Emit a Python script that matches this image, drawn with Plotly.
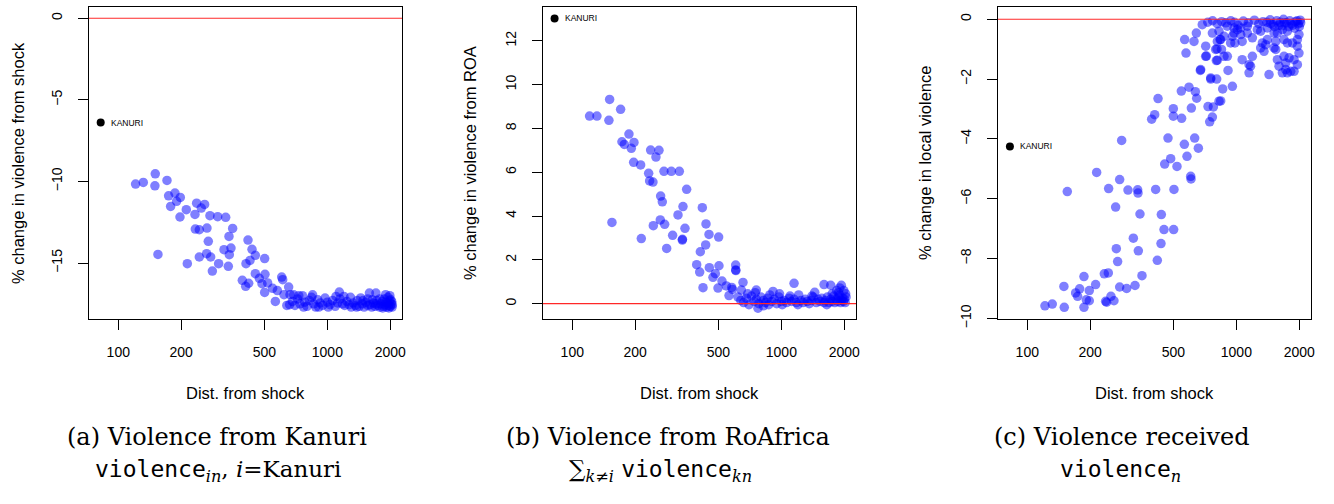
import math
import plotly.graph_objects as go

# ---------------- data ----------------
# Panel (a): % change in violence from shock (Kanuri)
dist_a = [121, 131.7, 150.3, 149.7, 171, 154.8, 174.1, 186.7, 178, 190.1, 198, 197.3, 211.5,
          232.7, 237, 233.6, 244.1, 249.5, 258.8, 265.6, 274.5, 298.8, 326.4, 352.4, 338.5,
          269.5, 213.9, 244.1, 264.6, 276.6, 302, 281.8, 336, 320.4, 339.7, 346, 417.3, 436.1,
          452.4, 408.2, 426.6, 501.3, 392, 406.8, 420.4, 452.4, 472.8, 503.1, 486.8, 518.1,
          501.3, 547.4, 576.6, 604.7, 611.4, 653.1, 564, 620.5, 662.8,
          640, 660, 680, 690, 700, 720, 730, 740, 760, 770, 780, 800, 820, 840, 850, 860, 880,
          900, 910, 925, 950, 975, 1000, 1010, 1030, 1060, 1090, 1100, 1120, 1141, 1150, 1180,
          1200, 1210, 1240, 1270, 1290, 1300, 1330, 1360, 1380, 1390, 1420, 1444, 1470, 1480,
          1500, 1530, 1560, 1560, 1589, 1600, 1630, 1640, 1660, 1690, 1700, 1707, 1720, 1750,
          1780, 1780, 1800, 1830, 1840, 1860, 1870, 1880, 1900, 1910, 1920, 1940, 1950, 1960,
          1970, 1980, 1990, 2000, 2010, 2020, 2030, 2040, 2045]
shock_a = [-10.16, -10.06, -9.53, -10.27, -9.94, -14.47, -10.88, -10.71, -11.53, -11.22, -10.98,
           -12.18, -11.73, -12.02, -11.33, -12.92, -12.96, -11.63, -11.41, -12.86, -12.10,
           -12.16, -12.2, -12.88, -13.37, -13.67, -15.04, -14.63, -14.43, -14.63, -15.04,
           -15.49, -15.2, -14.18, -14.49, -14.08, -13.59, -14.16, -14.53, -15.04, -14.84,
           -14.73, -16.06, -16.43, -16.24, -15.65, -15.94, -15.69, -16.27, -16.22, -16.8,
           -16.55, -16.69, -15.86, -16.02, -16.47, -17.35, -16.94, -16.94,
           -17.6, -17.55, -17.35, -16.95, -17.6, -17.2, -17.0, -17.5, -17.0, -17.7, -17.4,
           -17.65, -17.3, -17.1, -16.95, -17.5, -17.7, -17.25, -17.7, -17.45, -17.6, -17.15,
           -17.4, -17.7, -17.55, -17.3, -17.65, -17.05, -17.45, -16.78, -17.2, -17.5, -17.05,
           -17.6, -17.35, -17.55, -17.1, -17.7, -17.45, -17.6, -17.7, -17.3, -17.65, -17.14,
           -17.5, -17.3, -17.7, -17.4, -17.6, -17.2, -16.84, -17.55, -17.7, -17.25, -17.45,
           -17.65, -17.5, -16.84, -17.3, -17.6, -17.7, -17.2, -17.5, -17.35, -17.75, -17.65,
           -17.2, -17.55, -16.94, -17.4, -17.7, -17.45, -17.1, -17.6, -17.75, -17.3, -17.0,
           -17.65, -17.25, -17.5, -17.35, -17.7, -17.55]

# Panel (b): % change in violence from rest of Africa
dist_b = [121, 131.2, 150.9, 149.7, 170.3, 154.8, 172.8, 177.4, 186.7, 191.6, 197.3, 196.6,
          212.3, 213.9, 231.9, 234.4, 237, 243.2, 251.3, 259.8, 244.1, 264.6, 269.5, 263.6,
          276.6, 274.5, 297.7, 325.1, 282.8, 302, 320.4, 338.5, 336, 336.5, 346, 352.4, 418.8,
          436.1, 450.8, 434.5, 409.7, 393.5, 406.8, 422, 452.4, 471, 483.3, 503.1, 501.3,
          497.7, 520, 545.5, 561.9, 583, 604.7, 604.7, 606, 655.5, 643.6, 579,
          620, 640, 660, 680, 690, 700, 720, 740, 750, 759, 760, 773, 780, 800, 820, 820, 840,
          860, 870, 880, 900, 912, 925, 950, 975, 980, 1000, 1010, 1030, 1060, 1090, 1100,
          1120, 1150, 1150, 1180, 1200, 1210, 1240, 1270, 1300, 1330, 1360, 1390, 1400, 1420,
          1444, 1470, 1500, 1530, 1560, 1600, 1600, 1630, 1650, 1660, 1690, 1720, 1722, 1750,
          1750, 1780, 1800, 1830, 1840, 1860, 1880, 1880, 1900, 1902, 1920, 1936, 1940, 1960,
          1980, 1990, 2000, 2020, 2030, 2040]
roa_b = [8.56, 8.56, 9.32, 8.37, 8.87, 3.71, 7.39, 7.27, 7.74, 7.09, 7.36, 6.45, 6.33, 2.97,
         5.95, 5.60, 7.01, 5.55, 6.69, 7.0, 3.56, 4.91, 4.65, 3.82, 3.62, 6.04, 6.04, 6.04,
         2.52, 3.12, 4.05, 4.43, 2.9, 2.94, 3.44, 5.22, 4.38, 3.64, 3.16, 2.68, 2.37, 1.78,
         1.44, 0.73, 1.64, 1.2, 1.37, 1.73, 3.04, 0.71, 1.03, 0.81, 0.37, 0.65, 1.76, 1.54,
         1.51, 0.97, 0.62, 0.74,
         0.3, 0.15, 0.05, 0.25, 0.45, -0.05, 0.35, 0.1, 0.5, 0.62, 0.2, -0.21, 0.0, 0.3, 0.15,
         -0.1, 0.05, 0.25, -0.05, 0.4, 0.1, 0.56, 0.2, 0.0, 0.3, 0.45, 0.1, -0.05, 0.15, 0.05,
         0.25, 0.35, 0.1, 0.2, 0.93, 0.05, -0.05, 0.4, 0.15, 0.05, 0.2, 0.1, 0.0, 0.15, 0.35,
         0.3, 0.52, 0.05, 0.2, 0.1, 0.25, 0.05, 0.87, 0.15, -0.05, 0.3, 0.05, 0.2, 0.84, 0.1,
         0.45, 0.35, 0.05, 0.2, 0.6, 0.1, 0.3, 0.5, 0.4, 0.72, 0.05, 0.84, 0.15, 0.25, 0.1,
         0.6, 0.2, 0.05, 0.45, 0.3]

# Panel (c): % change in local violence
dist_c = [121.5, 131.7, 150.3, 186.7, 155.4, 149.7, 178, 170.3, 174.1, 186.7, 191.6, 198, 198,
          212.3, 214.7, 233.6, 244.1, 237, 239.7, 251.3, 259.8, 245, 264.6, 266.6, 270.5,
          276.6, 276.6, 298.8, 303.2, 282.8, 321.6, 327.6, 337.3, 338.5, 339.7, 346, 353.7,
          411.2, 418.8, 436.1, 437.7, 450.8, 454.2, 471, 485.1, 503.1, 501.3, 520.1, 499.5,
          499.5, 547.4, 393.5, 406.8, 422, 545.5, 564, 580.7, 593.6, 604.7, 607, 609.2, 636.6,
          646, 658, 631.9, 566, 574.4, 627.2, 643.6, 672.6, 713.5, 718.8, 732, 745.6, 753.9,
          767.9, 776.2, 802.3, 805.3, 808.2, 835.3, 860.3, 826.3, 841.4, 912.5, 957.1, 873,
          687, 811, 841, 796, 849, 713, 811, 905.5, 939, 984, 957, 1049, 1129, 1066, 1150,
          1169, 1150, 1193, 1307, 1381, 1356, 1433, 1543, 1543, 1600, 1660, 1722, 1754, 1820,
          1888, 1690, 1722, 1888, 1958, 1993, 1958, 1854, 1754, 1690, 1754, 1958, 1993, 1515,
          1571, 1660, 1260, 1307, 1407, 905, 975, 1049, 1129, 768, 826, 873, 975, 1011, 1066,
          1193, 1332, 1571, 1787, 675, 754, 1407, 1515,
          730, 770, 810, 850, 890, 940, 980, 1020, 1080, 1140, 1220, 1280, 1340, 1400, 1450,
          1500, 1560, 1620, 1680, 1740, 1800, 1860, 1920, 1980, 2020, 1520, 1650, 1780, 1900,
          2000, 1460, 1700, 1830, 1950, 2030, 1600]
local_c = [-9.58, -9.52, -9.63, -9.63, -5.76, -8.93, -9.01, -9.15, -9.26, -8.60, -9.38, -9.41,
           -9.07, -8.87, -5.12, -8.51, -8.48, -9.43, -9.46, -9.26, -9.41, -5.66, -6.28, -7.67,
           -8.10, -5.36, -8.95, -9.0, -5.71, -4.05, -7.32, -8.90, -5.70, -5.81, -7.74, -6.51,
           -8.57, -5.69, -8.06, -7.50, -6.53, -7.03, -4.84, -3.97, -4.66, -5.69, -7.03, -4.92,
           -2.99, -3.24, -3.31, -3.34, -3.19, -2.65, -2.40, -4.18, -4.58, -2.27, -5.25, -5.34,
           -2.97, -2.42, -2.64, -4.31, -3.97, -0.68, -1.13, -0.74, -0.46, -1.71, -0.90, -1.23,
           -2.92, -3.43, -2.0, -3.27, -2.93, -1.38, -2.0, -0.99, -0.68, -2.33, -2.74, -2.73,
           -1.71, -2.24, -1.24,
           -0.18, -0.74, -0.68, -1.01, -1.01, -1.24, -1.37, -1.24, -0.79, -0.79, -0.57, -0.51,
           -0.46, -1.35, -1.52, -1.57, -1.79, -1.24, -0.96, -0.85, -1.07, -1.85, -0.74, -1.01,
           -1.57, -1.79, -1.68, -1.79, -1.74, -1.74, -1.24, -1.46, -1.35, -1.52, -1.13, -0.90,
           -0.79, -0.79, -0.68, -0.40, -0.68, -0.51, -0.46, -0.46, -0.35, -0.35, -0.40, -0.29,
           -0.23, -0.29, -0.29, -0.23, -0.46, -0.40, -0.57, -0.46, -0.35, -0.74, -0.62, -0.79,
           -1.35, -1.29, -1.68, -1.96, -0.68, -0.96,
           -0.1, -0.05, -0.15, -0.08, -0.12, -0.05, -0.1, -0.2, -0.06, -0.12, -0.03, -0.15,
           -0.08, -0.1, -0.02, -0.18, -0.05, -0.1, 0.0, -0.12, -0.05, -0.2, -0.08, -0.15, -0.03,
           -0.25, -0.22, -0.25, -0.3, -0.25, -0.15, -0.12, -0.15, -0.05, -0.12, -0.2]

# KANURI reference points (dist, value) for each panel
kanuri_dist = [82.4, 82.3, 82.6]
kanuri_vals = [-6.39, 13.02, -4.25]
kanuri_label = "KANURI"

x_ticks = [100, 200, 500, 1000, 2000]
y_ticks_a = [0, -5, -10, -15]
y_ticks_b = [0, 2, 4, 6, 8, 10, 12]
y_ticks_c = [0, -2, -4, -6, -8, -10]
y_titles = ["% change in violence from shock", "% change in violence from ROA",
            "% change in local violence"]
x_title = "Dist. from shock"
captions1 = ["(a) Violence from Kanuri", "(b) Violence from RoAfrica", "(c) Violence received"]
MONO = "<span style=\"font-family:'DejaVu Sans Mono'\">violence</span>"
captions2 = [MONO + "<sub><i>in</i></sub>, <i>i</i>=Kanuri",
             "&#8721;<sub><i>k&#8800;i</i></sub> " + MONO + "<sub><i>kn</i></sub>",
             MONO + "<sub><i>n</i></sub>"]

# ---------------- layout geometry ----------------
W, H = 1334, 504
x_domains = [(89, 402), (543, 856), (998, 1311)]
y_top, y_bot = 7, 319
y_ranges = [(-18.43, 0.69), (-0.70, 13.54), (-10.02, 0.41)]
ytitle_x = [18, 470, 925]
cap_x1 = [217, 668, 1122]
cap_x2 = [218, 660, 1120]

fig = go.Figure()
datasets = [(dist_a, shock_a), (dist_b, roa_b), (dist_c, local_c)]
ytick_sets = [y_ticks_a, y_ticks_b, y_ticks_c]

SANS = "Liberation Sans, Arial, sans-serif"
AXFONT = dict(family=SANS, size=14, color="black")
for i, (xs, ys) in enumerate(datasets):
    xa = "x" if i == 0 else f"x{i+1}"
    ya = "y" if i == 0 else f"y{i+1}"
    fig.add_trace(go.Scatter(x=xs, y=ys, mode="markers", xaxis=xa, yaxis=ya,
                             marker=dict(size=9.5, color="rgba(0,0,255,0.5)", line=dict(width=0)),
                             showlegend=False, hoverinfo="skip"))
    fig.add_trace(go.Scatter(x=[kanuri_dist[i]], y=[kanuri_vals[i]], mode="markers",
                             xaxis=xa, yaxis=ya, marker=dict(size=8, color="black"),
                             showlegend=False, hoverinfo="skip"))
    # annotations on a log axis take log10 positions
    fig.add_annotation(x=math.log10(kanuri_dist[i]), y=kanuri_vals[i], xref=xa, yref=ya,
                       text=kanuri_label, showarrow=False, xanchor="left", xshift=8,
                       font=dict(family=SANS, size=8.5, color="black"))
    # red zero line
    fig.add_shape(type="line", xref=f"{xa} domain", yref=ya, x0=0, x1=1, y0=0, y1=0,
                  line=dict(color="rgb(255,40,40)", width=1.2), layer="above")

    d0, d1 = x_domains[i]
    axkey = "xaxis" if i == 0 else f"xaxis{i+1}"
    aykey = "yaxis" if i == 0 else f"yaxis{i+1}"
    fig.update_layout(**{
        axkey: dict(domain=[d0 / W, d1 / W], type="log", range=[1.86, 3.357],
                    tickvals=x_ticks, ticktext=[str(t) for t in x_ticks],
                    ticks="outside", ticklen=10, tickcolor="black", tickwidth=1,
                    showline=True, linecolor="black", linewidth=1, mirror=True,
                    showgrid=False, zeroline=False, tickfont=AXFONT, automargin=False,
                    ticklabelstandoff=10, anchor=ya),
        aykey: dict(domain=[1 - y_bot / H, 1 - y_top / H], range=list(y_ranges[i]),
                    tickvals=ytick_sets[i],
                    ticktext=[str(t).replace("-", "\u2212") for t in ytick_sets[i]],
                    tickangle=-90, ticks="outside", ticklen=10, tickcolor="black",
                    showline=True, linecolor="black", linewidth=1, mirror=True,
                    showgrid=False, zeroline=False, tickfont=AXFONT, automargin=False,
                    ticklabelstandoff=10, anchor=xa),
    })
    # axis titles
    fig.add_annotation(x=ytitle_x[i] / W, y=1 - (y_top + y_bot) / 2 / H, xref="paper", yref="paper",
                       text=y_titles[i], textangle=-90, showarrow=False,
                       xanchor="center", yanchor="middle",
                       font=dict(family=SANS, size=16.5, color="black"))
    fig.add_annotation(x=(d0 + d1) / 2 / W, y=1 - 393 / H, xref="paper", yref="paper",
                       text=x_title, showarrow=False, xanchor="center", yanchor="middle",
                       font=dict(family=SANS, size=16.5, color="black"))
    # captions
    fig.add_annotation(x=cap_x1[i] / W, y=1 - 437 / H, xref="paper", yref="paper",
                       text=captions1[i], showarrow=False, xanchor="center", yanchor="middle",
                       font=dict(family="DejaVu Serif, serif", size=24, color="black"))
    fig.add_annotation(x=cap_x2[i] / W, y=1 - 471 / H, xref="paper", yref="paper",
                       text=captions2[i], showarrow=False, xanchor="center", yanchor="middle",
                       font=dict(family="DejaVu Serif, serif", size=23, color="black"))

fig.update_layout(width=W, height=H, margin=dict(l=0, r=0, t=0, b=0),
                  paper_bgcolor="white", plot_bgcolor="white")

fig.write_html("out.html", config={"displayModeBar": False},
               post_script="document.body.style.margin='0';document.body.style.overflow='hidden';")
